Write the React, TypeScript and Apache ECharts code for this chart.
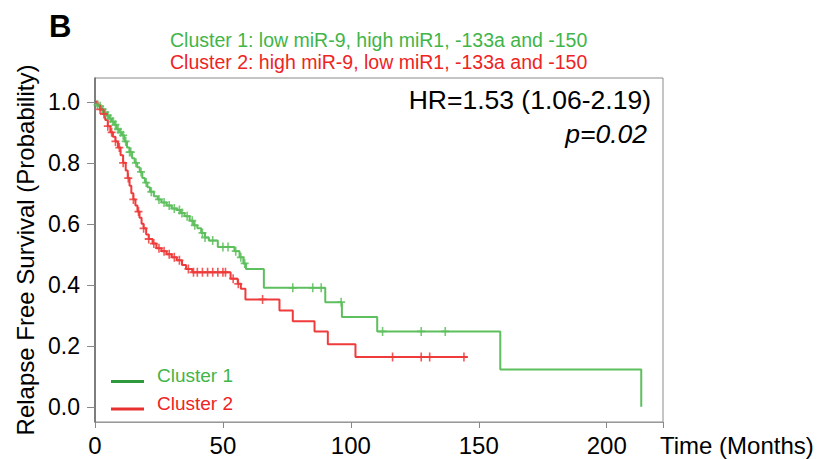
import React, { useEffect, useRef } from "react";
import * as echarts from "echarts";

// Cluster 1 (green): Kaplan-Meier steps (time in months, survival probability)
const cluster1Times = [0, 0.8, 1.5, 2.5, 3.5, 4.5, 5.5, 6.5, 7.5, 8.5, 9.5, 10.5, 11.5, 12.5, 13.5, 14.5, 15.5, 16.5, 17.5, 18.5, 19.5, 20.5, 21.5, 23, 24.5, 26, 28, 30, 32, 33.5, 35, 37, 38.5, 40, 41.5, 43, 44.5, 48, 54.5, 56.5, 58, 59, 66, 90, 96.5, 110.3, 158.4, 213.5];
const cluster1Surv = [1.0, 0.99, 0.985, 0.975, 0.965, 0.955, 0.945, 0.935, 0.925, 0.91, 0.9, 0.89, 0.87, 0.85, 0.835, 0.815, 0.8, 0.785, 0.77, 0.75, 0.735, 0.72, 0.705, 0.69, 0.68, 0.67, 0.66, 0.65, 0.645, 0.635, 0.625, 0.61, 0.595, 0.585, 0.57, 0.555, 0.545, 0.524, 0.51, 0.49, 0.47, 0.452, 0.39, 0.343, 0.294, 0.247, 0.122, 0.0];
const cluster1Censor = [1, 2, 3, 4, 5, 6, 7, 8, 9, 10, 11, 12, 13.5, 14, 16, 18, 20, 22, 25, 27, 29, 31, 33, 34, 36, 38, 39, 42, 43, 46, 50, 52, 55, 57, 58.5, 77.3, 85.1, 88.4, 96.2, 112.4, 127.5, 136.9];

// Cluster 2 (red)
const cluster2Times = [0, 1, 2, 3, 4, 5, 6, 7, 8, 9, 10, 11, 12, 12.8, 13.5, 14.2, 15, 15.8, 16.6, 17.4, 18.2, 19, 20, 21, 22.5, 24, 26, 28, 30, 32, 34, 35.6, 38, 53, 55.8, 57, 58.8, 72.1, 77.3, 85.8, 91, 101.8, 145.6];
const cluster2Surv = [1.0, 0.99, 0.975, 0.96, 0.94, 0.92, 0.9, 0.885, 0.87, 0.85, 0.825, 0.8, 0.775, 0.75, 0.725, 0.7, 0.68, 0.66, 0.64, 0.62, 0.6, 0.585, 0.565, 0.55, 0.535, 0.52, 0.51, 0.5, 0.49, 0.48, 0.465, 0.452, 0.441, 0.42, 0.403, 0.387, 0.352, 0.316, 0.28, 0.247, 0.205, 0.163, 0.163];
const cluster2Censor = [2, 3.5, 5, 6.5, 8, 9.5, 11, 13, 15, 17, 19, 21, 23, 25, 27, 29, 31, 33, 36.5, 38.5, 40, 42, 44, 46, 48, 50, 51, 54, 56, 65.5, 116.3, 127.5, 130.8, 144.2];

const xTicks = [0, 50, 100, 150, 200];
const yTicks = [0, 0.2, 0.4, 0.6, 0.8, 1.0];

const GREEN_LINE = "#5dbf5d";
const RED_LINE = "#ef3b3b";
const GREEN_TEXT = "#3fb54a";
const RED_TEXT = "#ee2424";
const FONT = "'Liberation Sans', Arial, sans-serif";

const survivalAt = (times: number[], surv: number[], t: number) => {
  let s = surv[0];
  for (let i = 0; i < times.length; i++) {
    if (times[i] <= t) s = surv[i];
  }
  return s;
};

const PLUS = "path://M4,0H6V10H4ZM0,4H10V6H0Z";

export default function App() {
  const ref = useRef<HTMLDivElement>(null);
  useEffect(() => {
    if (!ref.current) return;
    const chart = echarts.init(ref.current, undefined, { renderer: "svg" });
    const line1 = cluster1Times.map((t, i) => [t, cluster1Surv[i]]);
    const line2 = cluster2Times.map((t, i) => [t, cluster2Surv[i]]);
    const cens1 = cluster1Censor.map((t) => [t, survivalAt(cluster1Times, cluster1Surv, t)]);
    const cens2 = cluster2Censor.map((t) => [t, survivalAt(cluster2Times, cluster2Surv, t)]);
    chart.setOption({
      animation: false,
      backgroundColor: "#ffffff",
      textStyle: { fontFamily: FONT },
      grid: {
        left: 95,
        top: 78,
        width: 568,
        height: 344,
        show: true,
        borderColor: "#8a8a8a",
        borderWidth: 1,
        backgroundColor: "transparent",
        containLabel: false,
        outerBoundsMode: "none",
      },
      xAxis: {
        type: "value",
        min: 0,
        max: 222,
        interval: 50,
        axisLine: { show: true, onZero: false, lineStyle: { color: "#999999", width: 1 } },
        axisTick: { show: true, length: 6, lineStyle: { color: "#888888" } },
        axisLabel: {
          color: "#000",
          fontSize: 24,
          margin: 11,
          fontFamily: FONT,
          customValues: xTicks,
        },
        splitLine: { show: false },
        name: "Time (Months)",
        nameLocation: "end",
        nameGap: -3,
        nameTextStyle: {
          color: "#000",
          fontSize: 24,
          fontFamily: FONT,
          align: "left",
          verticalAlign: "top",
          padding: [11, 0, 0, 0],
        },
      },
      yAxis: {
        type: "value",
        min: -0.05,
        max: 1.078,
        axisLine: { show: true, onZero: false, lineStyle: { color: "#666666", width: 1.5 } },
        axisTick: { show: true, length: 8, lineStyle: { color: "#888888" }, customValues: yTicks },
        axisLabel: {
          color: "#000",
          fontSize: 23,
          margin: 15,
          fontFamily: FONT,
          customValues: yTicks,
          formatter: (v: number) => v.toFixed(1),
        },
        splitLine: { show: false },
        name: "Relapse Free Survival (Probability)",
        nameLocation: "middle",
        nameGap: 58,
        nameTextStyle: { color: "#000", fontSize: 24, fontFamily: FONT },
      },
      series: [
        {
          type: "line",
          step: "end",
          data: line1,
          showSymbol: false,
          lineStyle: { color: GREEN_LINE, width: 2 },
          z: 3,
        },
        {
          type: "line",
          step: "end",
          data: line2,
          showSymbol: false,
          lineStyle: { color: RED_LINE, width: 2 },
          z: 4,
        },
        {
          type: "scatter",
          data: cens1,
          symbol: PLUS,
          symbolSize: [8, 9],
          itemStyle: { color: GREEN_LINE, opacity: 0.85 },
          z: 5,
        },
        {
          type: "scatter",
          data: cens2,
          symbol: PLUS,
          symbolSize: [8, 9],
          itemStyle: { color: RED_LINE, opacity: 0.85 },
          z: 6,
        },
      ],
      graphic: [
        {
          type: "text",
          x: 49,
          y: 26,
          style: { text: "B", font: `bold 31px ${FONT}`, fill: "#000", verticalAlign: "middle" },
        },
        {
          type: "text",
          x: 170,
          y: 40,
          style: {
            text: "Cluster 1: low miR-9, high miR1, -133a and -150",
            font: `19.5px ${FONT}`,
            fill: GREEN_TEXT,
            verticalAlign: "middle",
          },
        },
        {
          type: "text",
          x: 170,
          y: 62,
          style: {
            text: "Cluster 2: high miR-9, low miR1, -133a and -150",
            font: `19.5px ${FONT}`,
            fill: RED_TEXT,
            verticalAlign: "middle",
          },
        },
        {
          type: "text",
          x: 651,
          y: 100,
          style: {
            text: "HR=1.53 (1.06-2.19)",
            font: `26.5px ${FONT}`,
            fill: "#000",
            align: "right",
            verticalAlign: "middle",
          },
        },
        {
          type: "text",
          x: 647,
          y: 134,
          style: {
            text: "p=0.02",
            font: `italic 26.5px ${FONT}`,
            fill: "#000",
            align: "right",
            verticalAlign: "middle",
          },
        },
        {
          type: "line",
          shape: { x1: 111, y1: 381.5, x2: 144, y2: 381.5 },
          style: { stroke: "#2e9a3e", lineWidth: 3 },
        },
        {
          type: "line",
          shape: { x1: 111, y1: 409, x2: 144, y2: 409 },
          style: { stroke: "#e83030", lineWidth: 3 },
        },
        {
          type: "text",
          x: 157,
          y: 375,
          style: { text: "Cluster 1", font: `19px ${FONT}`, fill: GREEN_TEXT, verticalAlign: "middle" },
        },
        {
          type: "text",
          x: 157,
          y: 403,
          style: { text: "Cluster 2", font: `19px ${FONT}`, fill: RED_TEXT, verticalAlign: "middle" },
        },
      ],
    });
    return () => chart.dispose();
  }, []);
  return (
    <div
      ref={ref}
      style={{ position: "fixed", left: 0, top: 0, width: 818, height: 459, background: "#fff" }}
    />
  );
}
